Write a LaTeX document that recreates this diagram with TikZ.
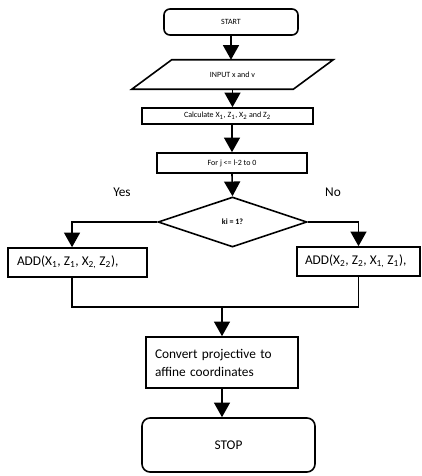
\documentclass[tikz,border=0pt]{standalone}
\usepackage{fontspec}
\setmainfont{Carlito}
\usetikzlibrary{arrows.meta,shapes.geometric}

\begin{document}
\begin{tikzpicture}[x=0.75pt, y=-0.75pt, >={Triangle[width=12pt,length=11pt]},
  box/.style={draw, line width=1.2pt, inner sep=0pt},
  line/.style={line width=1.2pt},
  small/.style={font=\fontsize{6}{7}\selectfont},
  big/.style={font=\fontsize{10}{13.5}\selectfont}]
  \useasboundingbox (0,0) rectangle (422,476);
  % 開始と入力
  \node[box, rounded corners=4.5pt, minimum width=100.5pt, minimum height=19.5pt, small] (start) at (231,22) {START};
  \node[inner sep=0pt, minimum width=120.75pt, minimum height=21.75pt, small] (input) at (232.5,74.5) {INPUT x and v};
  \draw[line] ([xshift=-15pt]input.south west) -- ([xshift=-15pt]input.south east)
    -- ([xshift=15pt]input.north east) -- ([xshift=15pt]input.north west) -- cycle;
  \node[box, minimum width=128.25pt, minimum height=12pt, small] (calc) at (227.5,116)
    {Calculate X\textsubscript{1}, Z\textsubscript{1}, X\textsubscript{2} and Z\textsubscript{2}};
  \node[box, minimum width=112.5pt, minimum height=15pt, small] (loop) at (232,163) {For j <= l-2 to 0};
  % 分岐 (ki = 1 かどうか)
  \node[box, diamond, minimum width=111.75pt, minimum height=37.5pt,
    font=\fontsize{6}{7}\selectfont\bfseries] (ki) at (232.5,222) {ki = 1?};
  \node[big] (yes) at (122,192) {Yes};
  \node[big] (no) at (333,192) {No};
  \node[box, big, inner xsep=6.75pt, minimum height=21.75pt] (addA) at (77.5,262.5)
    {\makebox[90.75pt][l]{ADD(X\textsubscript{1}, Z\textsubscript{1}, X\textsubscript{2,} Z\textsubscript{2}),}};
  \node[box, big, inner xsep=6pt, minimum height=21.75pt] (addB) at (358.5,261.5)
    {\makebox[80.25pt][l]{ADD(X\textsubscript{2}, Z\textsubscript{2}, X\textsubscript{1,} Z\textsubscript{1}),}};
  % 合流して座標変換
  \coordinate (join) at (222,307);
  \node[box, big, text width=100.5pt, align=left, inner xsep=6.75pt, minimum height=38.25pt] (conv) at (222,362.5)
    {Convert projective to\\affine coordinates};
  \node[box, rounded corners=6pt, minimum width=129.75pt, minimum height=40.5pt, big] (stop) at (228.5,445) {STOP};
  % 矢印
  \draw[line,->] (start.south) -- (start.south |- input.north);
  \draw[line,->] (input.south) -- (input.south |- calc.north);
  \draw[line,->] (loop.north |- calc.south) -- (loop.north);
  \draw[line,->] (loop.south) -- (ki.north);
  \draw[line,->] (ki.west) -| ([xshift=-4.1pt]addA.north);
  \draw[line,->] (ki.east) -| (addB.north);
  \draw[line] ([xshift=-4.1pt]addA.south) |- (join);
  \draw[line] (addB.south) |- (join);
  \draw[line,->] (join) -- (conv.north);
  \draw[line,->] (conv.south) -- (conv.south |- stop.north);
\end{tikzpicture}
\end{document}
